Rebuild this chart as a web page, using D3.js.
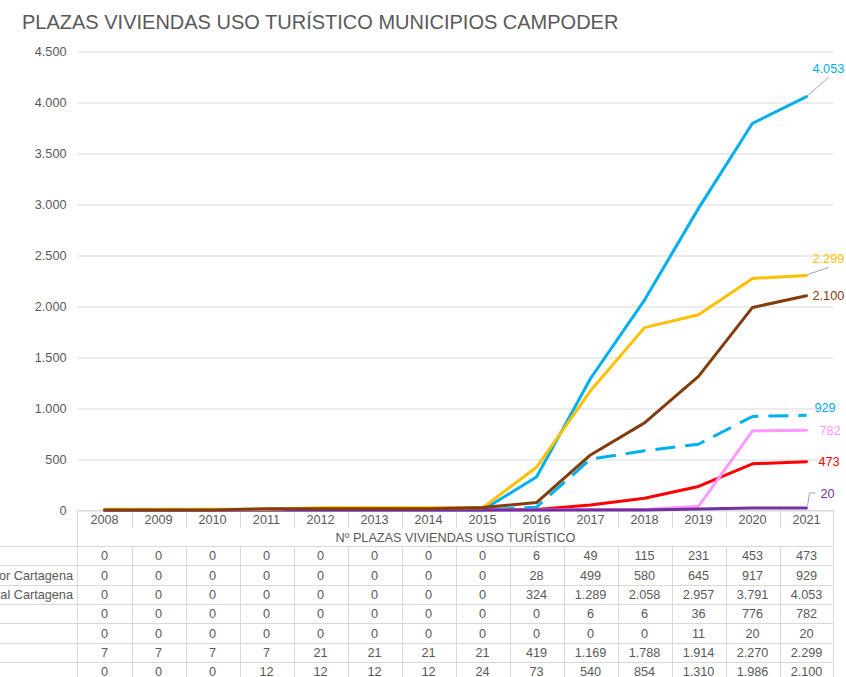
<!DOCTYPE html>
<html>
<head>
<meta charset="utf-8">
<script src="https://cdn.jsdelivr.net/npm/d3@7/dist/d3.min.js"></script>
<style>
  html, body { margin: 0; padding: 0; background: #fff; }
  svg { display: block; font-family: "Liberation Sans", Arial, sans-serif; }
</style>
</head>
<body>
<svg id="chart" width="846" height="677"></svg>
<script>
// ---- data ----
const title = "PLAZAS VIVIENDAS USO TURÍSTICO MUNICIPIOS CAMPODER";
const tableHeader = "Nº PLAZAS VIVIENDAS USO TURÍSTICO";
const years = ["2008","2009","2010","2011","2012","2013","2014","2015","2016","2017","2018","2019","2020","2021"];
const yTicks = [0, 500, 1000, 1500, 2000, 2500, 3000, 3500, 4000, 4500];

const rowLabels = ["", "Interior Cartagena", "Litoral Cartagena", "", "", "", ""];
const serieRoja     = [0, 0, 0, 0, 0, 0, 0, 0, 6, 49, 115, 231, 453, 473];
const serieInterior = [0, 0, 0, 0, 0, 0, 0, 0, 28, 499, 580, 645, 917, 929];
const serieLitoral  = [0, 0, 0, 0, 0, 0, 0, 0, 324, 1289, 2058, 2957, 3791, 4053];
const serieRosa     = [0, 0, 0, 0, 0, 0, 0, 0, 0, 6, 6, 36, 776, 782];
const serieMorada   = [0, 0, 0, 0, 0, 0, 0, 0, 0, 0, 0, 11, 20, 20];
const serieNaranja  = [7, 7, 7, 7, 21, 21, 21, 21, 419, 1169, 1788, 1914, 2270, 2299];
const serieMarron   = [0, 0, 0, 12, 12, 12, 12, 24, 73, 540, 854, 1310, 1986, 2100];

const seriesValues = [serieRoja, serieInterior, serieLitoral, serieRosa, serieMorada, serieNaranja, serieMarron];

// ---- styles ----
const colors = ["#FF0000", "#00B0F0", "#00B0F0", "#FF99FF", "#7030A0", "#FFC000", "#843C0C"];
const dashes = [null, "20 10", null, null, null, null, null];
// end-label placement: label offset from last point, and leader type
const endLabelLayout = [
  { dx: 12, dy: 0,   leader: null },
  { dx: 8,  dy: -8,  leader: null },
  { dx: 6,  dy: -28, leader: "diag" },
  { dx: 13, dy: 0,   leader: null },
  { dx: 14, dy: -15, leader: "elbow" },
  { dx: 6,  dy: -17, leader: "diag" },
  { dx: 6,  dy: 0,   leader: null }
];

const textColor = "#595959";
const gridColor = "#D9D9D9";
const fontSize = 12.7;

const fmt = d3.formatLocale({ decimal: ",", thousands: ".", grouping: [3], currency: ["", "€"] }).format(",d");

const svg = d3.select("#chart");

// ---- scales ----
const x = d3.scaleBand().domain(years).range([77.5, 833.5]).paddingInner(0).paddingOuter(0);
const y = d3.scaleLinear().domain([0, 4500]).range([510, 51]);
const cx = d => x(d) + x.bandwidth() / 2;

// title
svg.append("text")
  .attr("x", 22).attr("y", 28.5)
  .attr("font-size", 20).attr("fill", textColor)
  .text(title);

// gridlines + y labels via axis
const yAxis = d3.axisLeft(y)
  .tickValues(yTicks)
  .tickSize(-(833.5 - 77.5))
  .tickPadding(11)
  .tickFormat(d => fmt(d));

const gy = svg.append("g").attr("transform", "translate(77.5,0)").call(yAxis);
gy.select(".domain").remove();
gy.selectAll(".tick line").attr("stroke", gridColor).attr("stroke-width", 1)
  .attr("transform", "translate(0,0.5)");
gy.selectAll(".tick text")
  .attr("fill", textColor).attr("font-size", fontSize)
  .attr("font-family", "'Liberation Sans', Arial, sans-serif");

// ---- data table ----
const tTop = 510;
const yearRowH = 18;
const headRowH = 18;
const rowH = 19.35;
const rowsTop = tTop + yearRowH + headRowH;
const xL = x.range()[0], xR = x.range()[1];
const table = svg.append("g").attr("stroke", gridColor).attr("stroke-width", 1).attr("fill", "none");

// top border
table.append("line").attr("x1", xL).attr("x2", xR).attr("y1", tTop + 0.5).attr("y2", tTop + 0.5);
// row lines (extend under the label column)
for (let i = 0; i <= seriesValues.length; i++) {
  const yy = Math.round(rowsTop + i * rowH) + 0.5;
  table.append("line").attr("x1", 0).attr("x2", xR).attr("y1", yy).attr("y2", yy);
}
// left and right border
table.append("line").attr("x1", xL).attr("x2", xL).attr("y1", tTop).attr("y2", 677);
table.append("line").attr("x1", xR).attr("x2", xR).attr("y1", tTop).attr("y2", 677);
// column separators: year row and data rows
years.slice(1).forEach(yr => {
  const xx = Math.round(x(yr)) + 0.5;
  table.append("line").attr("x1", xx).attr("x2", xx).attr("y1", tTop).attr("y2", tTop + yearRowH);
  table.append("line").attr("x1", xx).attr("x2", xx).attr("y1", rowsTop).attr("y2", 677);
});

const tText = svg.append("g").attr("fill", textColor).attr("font-size", fontSize).attr("text-anchor", "middle");
years.forEach(yr => {
  tText.append("text").attr("x", cx(yr)).attr("y", tTop + yearRowH / 2 + 4.6).text(yr);
});
tText.append("text").attr("x", (xL + xR) / 2).attr("y", tTop + yearRowH + headRowH / 2 + 4.6).text(tableHeader);

seriesValues.forEach((vals, i) => {
  const yc = rowsTop + i * rowH + rowH / 2 + 4.6;
  vals.forEach((v, j) => {
    tText.append("text").attr("x", cx(years[j])).attr("y", yc).text(fmt(v));
  });
  tText.append("text").attr("x", 73).attr("y", yc).attr("text-anchor", "end").text(rowLabels[i]);
});

// ---- lines ----
const line = d3.line().x((d, j) => cx(years[j])).y(d => y(d));
const gLines = svg.append("g").attr("fill", "none");
seriesValues.forEach((vals, i) => {
  gLines.append("path")
    .datum(vals)
    .attr("d", line)
    .attr("stroke", colors[i])
    .attr("stroke-width", 3)
    .attr("stroke-linejoin", "round")
    .attr("stroke-linecap", dashes[i] ? "butt" : "round")
    .attr("stroke-dasharray", dashes[i]);
});

// ---- end labels ----
const gLab = svg.append("g").attr("font-size", fontSize);
seriesValues.forEach((vals, i) => {
  const last = vals[vals.length - 1];
  const px = cx(years[years.length - 1]);
  const py = y(last);
  const L = endLabelLayout[i];
  const lx = px + L.dx, ly = py + L.dy;
  if (L.leader === "diag") {
    gLab.append("line")
      .attr("x1", px + 1).attr("y1", py - 1)
      .attr("x2", lx + 16).attr("y2", ly + 9)
      .attr("stroke", "#A6A6A6").attr("stroke-width", 1);
  } else if (L.leader === "elbow") {
    gLab.append("polyline")
      .attr("points", `${px + 1},${py - 2} ${px + 3},${ly} ${lx - 5},${ly}`)
      .attr("fill", "none").attr("stroke", "#A6A6A6").attr("stroke-width", 1);
  }
  gLab.append("text")
    .attr("x", lx).attr("y", ly + 4.6)
    .attr("fill", colors[i])
    .text(fmt(last));
});
</script>
</body>
</html>
